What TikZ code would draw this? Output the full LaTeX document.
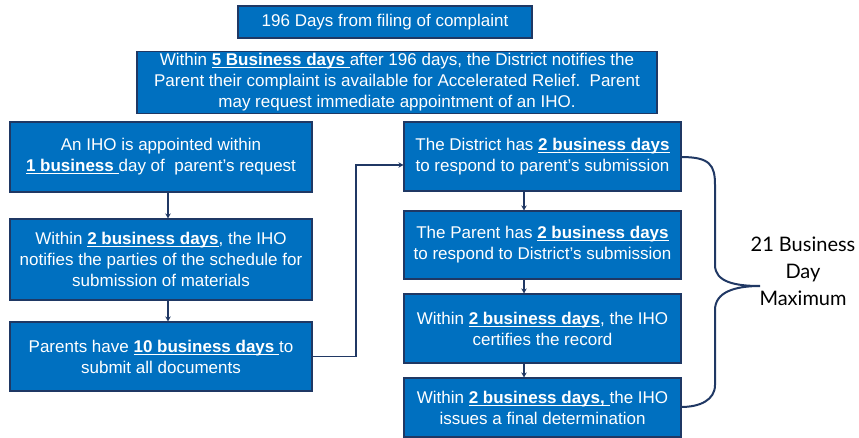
\documentclass[tikz,border=0pt]{standalone}
\usepackage{fontspec}
\setmainfont{Liberation Sans}
\newfontfamily\gillfont{Lato}
\usetikzlibrary{arrows.meta,calc}
\definecolor{boxblue}{HTML}{0070C0}
\definecolor{boxedge}{HTML}{1F3864}
\definecolor{linenavy}{HTML}{203864}
\newsavebox{\ulbbox}
\newcommand{\ulb}[1]{\sbox{\ulbbox}{\textbf{#1}}\rlap{\rule[-2.6pt]{\wd\ulbbox}{1.1pt}}\usebox{\ulbbox}}
\begin{document}
\begin{tikzpicture}[x=1pt,y=-1pt,
  box/.style={draw=boxedge, line width=1.2pt, fill=boxblue, text=white, align=center,
    inner sep=2pt, font=\fontsize{17}{21}\selectfont},
  arr/.style={draw=linenavy, line width=1.8pt, -{Stealth[length=5pt,width=5.5pt]}},
  brace/.style={draw=linenavy, line width=2pt}]
\useasboundingbox (0,0) rectangle (859,438);
\node[box, minimum width=294pt, minimum height=32pt] (t1) at (385,22) {196 Days from filing of complaint};
\node[box, minimum width=520pt, minimum height=61pt] (t2) at (397,82.5) {Within \ulb{5 Business days }after 196 days, the District notifies the\\Parent their complaint is available for Accelerated Relief.~~Parent\\may request immediate appointment of an IHO.};
\node[box, minimum width=302pt, minimum height=70pt] (a) at (161,157) {An IHO is appointed within\\\ulb{1 business }day of~~parent’s request};
\node[box, minimum width=302pt, minimum height=81pt] (b) at (161,259.5) {Within \ulb{2 business days}, the IHO\\notifies the parties of the schedule for\\submission of materials};
\node[box, minimum width=302pt, minimum height=69pt] (c) at (161,356.5) {Parents have \ulb{10 business days }to\\submit all documents};
\node[box, minimum width=277pt, minimum height=69pt] (d) at (542.5,156.5) {The District has \ulb{2 business days}\\to respond to parent’s submission};
\node[box, minimum width=277pt, minimum height=68pt] (e) at (542.5,245) {The Parent has \ulb{2 business days}\\to respond to District’s submission};
\node[box, minimum width=277pt, minimum height=69pt] (f) at (542.5,328.5) {Within \ulb{2 business days}, the IHO\\certifies the record};
\node[box, minimum width=277pt, minimum height=59pt] (g) at (542.5,407.5) {Within \ulb{2 business days, }the IHO\\issues a final determination};
\coordinate (lx) at (168,0);
\coordinate (rx) at (524,0);
\coordinate (e1) at (356,165);
\draw[arr] (a.south -| lx) -- (b.north -| lx);
\draw[arr] (b.south -| lx) -- (c.north -| lx);
\draw[arr] (d.south -| rx) -- (e.north -| rx);
\draw[arr] (e.south -| rx) -- (f.north -| rx);
\draw[arr] (f.south -| rx) -- (g.north -| rx);
\draw[arr] (c.east) -| (e1) -- (e1 -| d.west);
\coordinate (bt) at (681,157);
\coordinate (tip) at (760,286);
\coordinate (bb) at (681,407);
\draw[brace] (bt) .. controls (710,157) and (715,165) .. (715,185) -- (715,265)
  .. controls (715,282) and (735,286) .. (tip)
  .. controls (735,286) and (715,292) .. (715,310) -- (715,385)
  .. controls (715,400) and (700,407) .. (bb);
\node[font=\gillfont\fontsize{20}{27}\selectfont, align=center] (lbl) at (803,271) {21 Business\\Day\\Maximum};
\end{tikzpicture}
\end{document}
